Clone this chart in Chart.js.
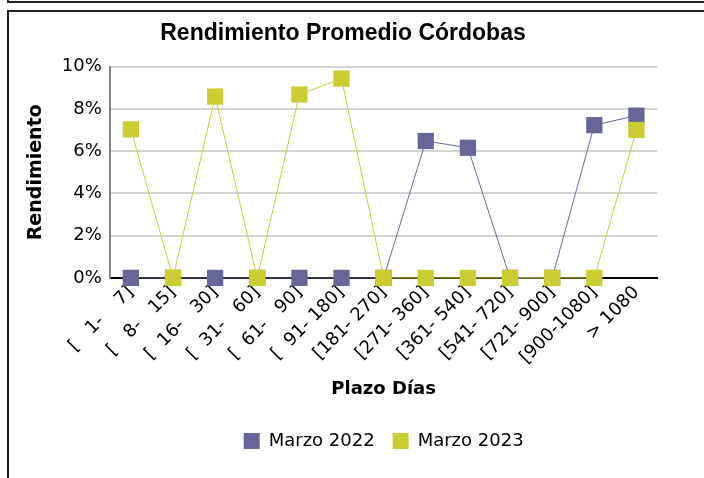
<!DOCTYPE html>
<html lang="es">
<head>
    <meta charset="UTF-8">
    <title>Rendimiento Promedio Córdobas</title>
    <script src="https://cdn.jsdelivr.net/npm/chart.js"></script>
    <style>
        html, body {
            margin: 0;
            padding: 0;
            background: #fff;
            width: 704px;
            height: 478px;
            overflow: hidden;
        }
        .marcoArriba {
            position: absolute;
            left: 7px;
            top: -5px;
            width: 700px;
            height: 6px;
            border-left: 2px solid #222;
            border-bottom: 2px solid #222;
        }
        .marco {
            position: absolute;
            left: 7px;
            top: 10px;
            width: 700px;
            height: 470px;
            border-left: 2px solid #222;
            border-top: 2px solid #222;
        }
        .grafico {
            position: absolute;
            left: 9px;
            top: 12px;
            width: 660px;
            height: 466px;
        }
    </style>
</head>
<body>
    <div class="marcoArriba"></div>
    <div class="marco"></div>
    <div class="grafico"><canvas id="rendimientoChart"></canvas></div>

    <script>
        const plazos = [
            "[   1-    7]", "[   8-   15]", "[  16-   30]", "[  31-   60]", "[  61-   90]",
            "[  91- 180]", "[181- 270]", "[271- 360]", "[361- 540]", "[541- 720]",
            "[721- 900]", "[900-1080]", "> 1080"
        ];
        // valores en %
        const marzo2022 = [0, 0, 0, 0, 0, 0, 0, 6.48, 6.16, 0, 0, 7.23, 7.68];
        const marzo2023 = [7.03, 0, 8.58, 0, 8.68, 9.43, 0, 0, 0, 0, 0, 0, 7.0];
        const ticksY = [0, 2, 4, 6, 8, 10];

        const morado = "#666699";
        const amarillo = "#cccc33";
        const fuente = "'DejaVu Sans', Verdana, sans-serif";
        const fuenteTitulo = "'Liberation Sans', Arial, sans-serif";

        new Chart(document.getElementById("rendimientoChart"), {
            type: 'line',
            data: {
                labels: plazos,
                datasets: [{
                    label: 'Marzo 2023',
                    data: marzo2023,
                    borderColor: amarillo,
                    backgroundColor: amarillo,
                    borderWidth: 1,
                    pointStyle: 'rect',
                    pointRadius: 11.5,
                    pointHoverRadius: 11.5,
                    pointBorderWidth: 0,
                    clip: false
                }, {
                    label: 'Marzo 2022',
                    data: marzo2022,
                    borderColor: morado,
                    backgroundColor: morado,
                    borderWidth: 1,
                    pointStyle: 'rect',
                    pointRadius: 11.5,
                    pointHoverRadius: 11.5,
                    pointBorderWidth: 0,
                    clip: false
                }]
            },
            options: {
                responsive: true,
                maintainAspectRatio: false,
                animation: false,
                layout: { padding: { left: 16, right: 8, top: 2, bottom: 18 } },
                plugins: {
                    title: {
                        display: true,
                        text: 'Rendimiento Promedio Córdobas',
                        color: '#000',
                        font: { family: fuenteTitulo, size: 23, weight: 'bold' },
                        padding: { top: 6, bottom: 19 }
                    },
                    legend: {
                        position: 'bottom',
                        fullSize: false,
                        reverse: true,
                        labels: {
                            usePointStyle: true,
                            pointStyle: 'rect',
                            boxWidth: 16,
                            boxHeight: 16,
                            color: '#000',
                            padding: 18,
                            font: { family: fuente, size: 18 }
                        }
                    },
                    tooltip: { enabled: false }
                },
                scales: {
                    x: {
                        offset: true,
                        grid: { display: false, drawTicks: false },
                        border: { color: '#000', width: 2 },
                        ticks: {
                            color: '#000',
                            maxRotation: 45,
                            minRotation: 45,
                            autoSkip: false,
                            padding: 4,
                            font: { family: fuente, size: 18 }
                        },
                        title: {
                            display: true,
                            text: 'Plazo Días',
                            color: '#000',
                            font: { family: fuente, size: 18, weight: 'bold' },
                            padding: { top: 6, bottom: 14 }
                        }
                    },
                    y: {
                        min: 0,
                        max: 10,
                        afterBuildTicks: (scale) => {
                            scale.ticks = ticksY.map(v => ({ value: v }));
                        },
                        grid: { color: '#d4d4d4', lineWidth: 2, drawTicks: false },
                        border: { color: '#888', width: 2 },
                        ticks: {
                            color: '#000',
                            padding: 8,
                            font: { family: fuente, size: 18 },
                            callback: (v) => v + '%'
                        },
                        title: {
                            display: true,
                            text: 'Rendimiento',
                            color: '#000',
                            font: { family: fuente, size: 19, weight: 'bold' },
                            padding: { top: 0, bottom: 6 }
                        }
                    }
                }
            }
        });
    </script>
</body>
</html>
